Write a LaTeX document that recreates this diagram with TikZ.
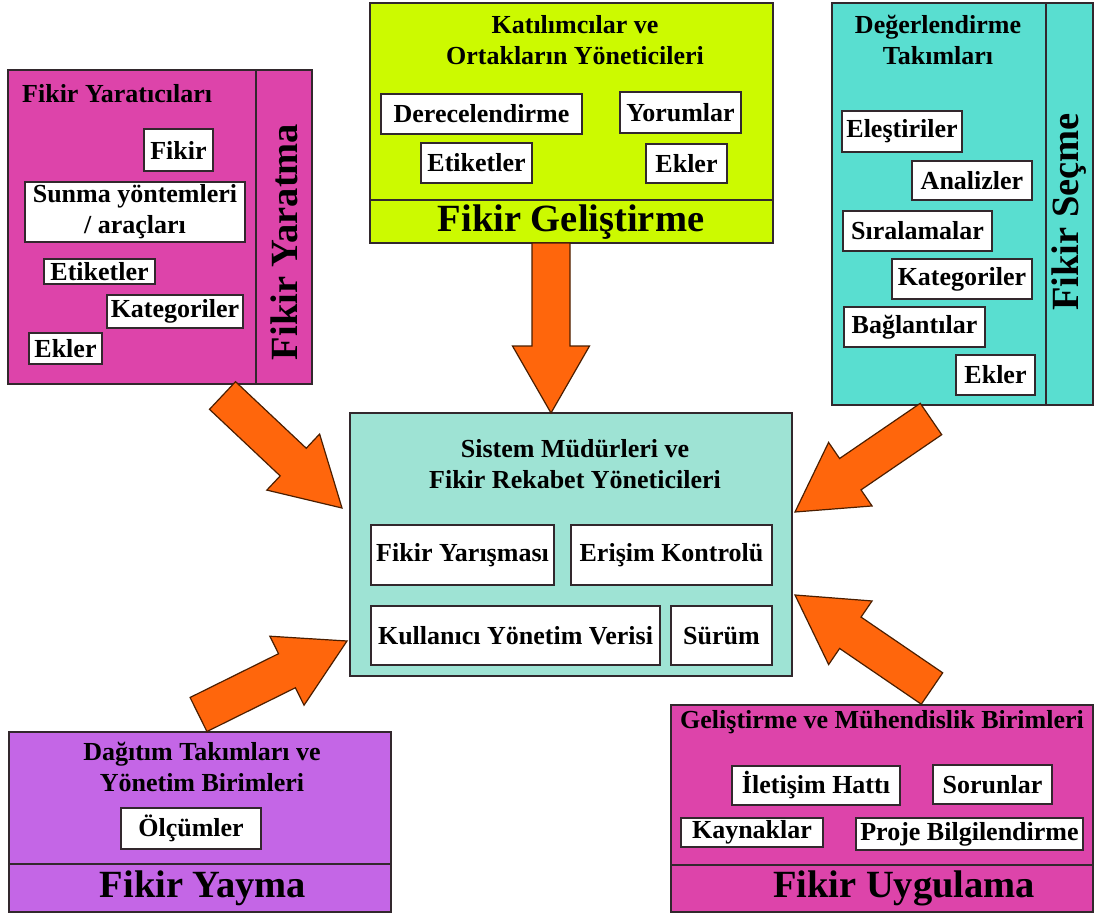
\documentclass[tikz,border=0pt]{standalone}
\usepackage{fontspec}
\setmainfont{Liberation Serif}
\usetikzlibrary{calc}

\definecolor{pinkfill}{RGB}{221,68,170}
\definecolor{limefill}{RGB}{204,250,0}
\definecolor{turqfill}{RGB}{89,222,208}
\definecolor{aquafill}{RGB}{158,227,212}
\definecolor{violetfill}{RGB}{196,102,230}
\definecolor{arrowfill}{RGB}{255,102,12}
\definecolor{arrowedge}{RGB}{75,30,0}
\definecolor{edge}{RGB}{50,40,45}

\newcommand\txtS{\fontsize{26}{31}\selectfont\bfseries}
\newcommand\txtL{\fontsize{38.5}{44}\selectfont\bfseries}

% thick block arrow from #1 to tip #2; #3 names its head base
\newcommand\blockarrow[3]{%
  \coordinate (#3-h) at ($(#2)!67pt!(#1)$);
  \draw[bigarrow] ($(#1)!19pt!90:(#2)$) -- ($(#3-h)!19pt!-90:(#1)$)
    -- ($(#3-h)!38.5pt!-90:(#1)$) -- (#2) -- ($(#3-h)!38.5pt!90:(#1)$)
    -- ($(#3-h)!19pt!90:(#1)$) -- ($(#1)!19pt!-90:(#2)$) -- cycle;}

\tikzset{
  panel/.style={draw=edge, line width=1.3pt, anchor=north west, inner sep=0pt, outer sep=0pt},
  item/.style={draw=edge, line width=1.2pt, fill=white, inner sep=0pt, font=\txtS, text=black},
  head/.style={font=\txtS, align=center, inner sep=0pt, text=black},
  stage/.style={font=\txtL, inner sep=0pt, text=black},
  sep/.style={draw=edge, line width=1.2pt},
  bigarrow/.style={fill=arrowfill, draw=arrowedge, line width=1.2pt, line join=miter},
}

\begin{document}
\begin{tikzpicture}[x=1pt, y=-1pt]
\useasboundingbox (0,0) rectangle (1095,915);

% ---------- Fikir Yaratma ----------
\node[panel, fill=pinkfill, minimum width=304pt, minimum height=314pt] (yar) at (8,70) {};
\draw[sep] (256,70) -- (256,384);
\node[head, anchor=base west] (yar-t) at (22,103) {Fikir Yaratıcıları};
\node[stage, rotate=90] (yar-s) at (284,242) {Fikir Yaratma};
\node[item, minimum width=69pt, minimum height=42pt] (y1) at (178.5,150) {Fikir};
\node[item, minimum width=220pt, minimum height=60pt, align=center] (y2) at (135,212) {Sunma yöntemleri\\/ araçları};
\node[item, minimum width=111pt, minimum height=25pt] (y3) at (99.5,271.5) {Etiketler};
\node[item, minimum width=136pt, minimum height=33pt] (y4) at (175,311.5) {Kategoriler};
\node[item, minimum width=73pt, minimum height=31pt] (y5) at (65.5,348.5) {Ekler};

% ---------- Fikir Geliştirme ----------
\node[panel, fill=limefill, minimum width=403pt, minimum height=240pt] (gel) at (370,3) {};
\draw[sep] (370,200) -- (773,200);
\node[head, text depth=0pt] (gel-t) at (575,40) {Katılımcılar ve\\Ortakların Yöneticileri};
\node[stage] (gel-s) at (571,222) {Fikir Geliştirme};
\node[item, minimum width=201pt, minimum height=40pt] (g1) at (481.5,114) {Derecelendirme};
\node[item, minimum width=121pt, minimum height=41pt] (g2) at (680.5,112.5) {Yorumlar};
\node[item, minimum width=111pt, minimum height=40pt] (g3) at (476.5,163) {Etiketler};
\node[item, minimum width=81pt, minimum height=39pt] (g4) at (686.5,163.5) {Ekler};

% ---------- Fikir Seçme ----------
\node[panel, fill=turqfill, minimum width=261pt, minimum height=402pt] (sec) at (832,3) {};
\draw[sep] (1046,3) -- (1046,405);
\node[head] (sec-t) at (938,40) {Değerlendirme\\Takımları};
\node[stage, rotate=90] (sec-s) at (1069.5,212) {Fikir Seçme};
\node[item, minimum width=120pt, minimum height=41pt] (s1) at (902,131.5) {Eleştiriler};
\node[item, minimum width=120pt, minimum height=39pt] (s2) at (972,180.5) {Analizler};
\node[item, minimum width=149pt, minimum height=40pt] (s3) at (917.5,231) {Sıralamalar};
\node[item, minimum width=140pt, minimum height=40pt] (s4) at (962,279) {Kategoriler};
\node[item, minimum width=141pt, minimum height=40pt] (s5) at (914.5,327) {Bağlantılar};
\node[item, minimum width=79pt, minimum height=40pt] (s6) at (995.5,375) {Ekler};

% ---------- centre ----------
\node[panel, fill=aquafill, minimum width=442pt, minimum height=263pt] (ctr) at (350,413) {};
\node[head] (ctr-t) at (575,464) {Sistem Müdürleri ve\\Fikir Rekabet Yöneticileri};
\node[item, minimum width=183pt, minimum height=60pt] (c1) at (462.5,555) {Fikir Yarışması};
\node[item, minimum width=201pt, minimum height=60pt] (c2) at (671.5,555) {Erişim Kontrolü};
\node[item, minimum width=289pt, minimum height=59pt] (c3) at (515.5,635.5) {Kullanıcı Yönetim Verisi};
\node[item, minimum width=101pt, minimum height=59pt] (c4) at (721.5,635.5) {Sürüm};

% ---------- Fikir Yayma ----------
\node[panel, fill=violetfill, minimum width=382pt, minimum height=180pt] (yay) at (9,732) {};
\draw[sep] (9,864) -- (391,864);
\node[head] (yay-t) at (202,767) {Dağıtım Takımları ve\\Yönetim Birimleri};
\node[stage] (yay-s) at (203,888) {Fikir Yayma};
\node[item, minimum width=140pt, minimum height=41pt] (d1) at (191,828.5) {Ölçümler};

% ---------- Fikir Uygulama ----------
\node[panel, fill=pinkfill, minimum width=422pt, minimum height=207pt] (uyg) at (671,705) {};
\draw[sep] (671,865) -- (1093,865);
\node[head] (uyg-t) at (882,722) {Geliştirme ve Mühendislik Birimleri};
\node[stage] (uyg-s) at (904,888) {Fikir Uygulama};
\node[item, minimum width=168pt, minimum height=39pt] (u1) at (816,785.5) {İletişim Hattı};
\node[item, minimum width=119pt, minimum height=39pt] (u2) at (992.5,784.5) {Sorunlar};
\node[item, minimum width=142pt, minimum height=29pt] (u3) at (752,832.5) {Kaynaklar};
\node[item, minimum width=227pt, minimum height=32pt] (u4) at (969.5,834) {Proje Bilgilendirme};

% ---------- arrows into the centre ----------
\coordinate (gel-out) at (551,243);
\coordinate (ctr-n)   at (551,413);
\coordinate (yar-out) at (222.5,395.5);
\coordinate (ctr-nw)  at (342,508);
\coordinate (sec-out) at (931,419);
\coordinate (ctr-ne)  at (795,512);
\coordinate (yay-out) at (198.5,714.5);
\coordinate (ctr-sw)  at (347,641);
\coordinate (uyg-out) at (932,688.5);
\coordinate (ctr-se)  at (795,595);

\blockarrow{gel-out}{ctr-n}{a1}
\blockarrow{yar-out}{ctr-nw}{a2}
\blockarrow{sec-out}{ctr-ne}{a3}
\blockarrow{yay-out}{ctr-sw}{a4}
\blockarrow{uyg-out}{ctr-se}{a5}
\end{tikzpicture}
\end{document}
